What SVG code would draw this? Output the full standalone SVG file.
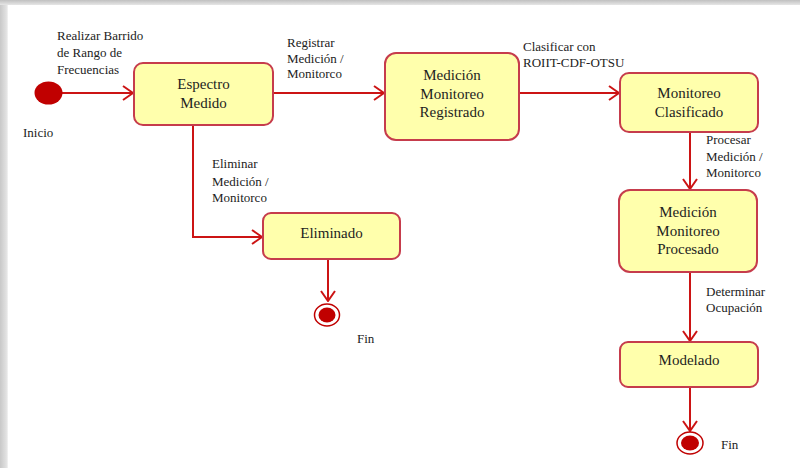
<svg xmlns="http://www.w3.org/2000/svg" width="800" height="468" viewBox="0 0 800 468">
  <defs>
    <linearGradient id="edgeL" x1="0" y1="0" x2="1" y2="0">
      <stop offset="0" stop-color="#c8c8c8"/>
      <stop offset="0.8" stop-color="#e2e2e2"/>
      <stop offset="1" stop-color="#f4f4f4"/>
    </linearGradient>
    <linearGradient id="edgeT" x1="0" y1="0" x2="0" y2="1">
      <stop offset="0" stop-color="#c0c0c0"/>
      <stop offset="1" stop-color="#e6e6e6"/>
    </linearGradient>
    <marker id="arrow" viewBox="0 0 12 16" refX="11" refY="8" markerWidth="12" markerHeight="16" markerUnits="userSpaceOnUse" orient="auto">
      <path d="M1,1 L11,8 L1,15" fill="none" stroke="#cc1414" stroke-width="2"/>
    </marker>
    <style>
      text { font-family: 'Liberation Serif', 'DejaVu Serif', serif; }
      .state rect { fill: #ffffac; stroke: #c63c4c; stroke-width: 2; }
      .state text { font-size: 15px; fill: #1e1e1e; text-anchor: middle; }
      .lbl { font-size: 13px; fill: #222; }
      .edge { fill: none; stroke: #cc1414; stroke-width: 2; marker-end: url(#arrow); }
      .dot { fill: #c00000; }
      .ring { fill: #ffffff; stroke: #c00000; stroke-width: 1.5; }
    </style>
  </defs>

  <!-- page background with soft shaded top/left edge -->
  <rect x="0" y="0" width="800" height="468" fill="#ffffff"/>
  <rect x="0" y="0" width="8" height="468" fill="url(#edgeL)"/>
  <rect x="0" y="0" width="800" height="5" fill="url(#edgeT)"/>

  <!-- connectors -->
  <g id="connectors">
    <line class="edge" x1="62" y1="93" x2="133" y2="93"/>
    <line class="edge" x1="273" y1="93" x2="384" y2="93"/>
    <line class="edge" x1="520" y1="93" x2="619" y2="93"/>
    <polyline class="edge" points="193,125 193,237 262,237"/>
    <line class="edge" x1="328" y1="260" x2="328" y2="301"/>
    <line class="edge" x1="690" y1="133" x2="690" y2="189"/>
    <line class="edge" x1="690" y1="273" x2="690" y2="341"/>
    <line class="edge" x1="690" y1="388" x2="690" y2="431"/>
  </g>

  <g font-family="Liberation Serif, DejaVu Serif, serif">
  <!-- transition labels -->
  <g id="labels">
    <text class="lbl" x="57" y="40">Realizar Barrido</text>
    <text class="lbl" x="57" y="57">de Rango de</text>
    <text class="lbl" x="57" y="74">Frecuencias</text>
    <text class="lbl" x="287" y="47">Registrar</text>
    <text class="lbl" x="287" y="63">Medición /</text>
    <text class="lbl" x="287" y="78">Monitorco</text>
    <text class="lbl" x="523" y="51">Clasificar con</text>
    <text class="lbl" x="523" y="67">ROIIT-CDF-OTSU</text>
    <text class="lbl" x="212" y="168">Eliminar</text>
    <text class="lbl" x="212" y="186">Medición /</text>
    <text class="lbl" x="212" y="202">Monitorco</text>
    <text class="lbl" x="706" y="144">Procesar</text>
    <text class="lbl" x="706" y="161">Medición /</text>
    <text class="lbl" x="706" y="177">Monitorco</text>
    <text class="lbl" x="706" y="296">Determinar</text>
    <text class="lbl" x="706" y="312">Ocupación</text>
  </g>

  <!-- initial state -->
  <g id="inicio">
    <ellipse class="dot" cx="48.5" cy="93" rx="14" ry="11.5"/>
    <text class="lbl" x="23" y="137">Inicio</text>
  </g>

  <g id="espectro-medido" class="state">
    <rect x="134" y="63" width="139" height="62" rx="9"/>
    <text x="203.5" y="89">Espectro</text>
    <text x="203.5" y="108">Medido</text>
  </g>

  <g id="medicion-registrado" class="state">
    <rect x="385" y="53" width="134" height="87" rx="11"/>
    <text x="452" y="80">Medición</text>
    <text x="452" y="99">Monitoreo</text>
    <text x="452" y="117">Registrado</text>
  </g>

  <g id="monitoreo-clasificado" class="state">
    <rect x="620" y="73" width="138" height="59" rx="9"/>
    <text x="689" y="98">Monitoreo</text>
    <text x="689" y="117">Clasificado</text>
  </g>

  <g id="eliminado" class="state">
    <rect x="263" y="213" width="137" height="46" rx="8"/>
    <text x="331.5" y="238">Eliminado</text>
  </g>

  <g id="medicion-procesado" class="state">
    <rect x="619" y="190" width="138" height="82" rx="11"/>
    <text x="688" y="217">Medición</text>
    <text x="688" y="236">Monitoreo</text>
    <text x="688" y="254">Procesado</text>
  </g>

  <g id="modelado" class="state">
    <rect x="620" y="342" width="138" height="45" rx="8"/>
    <text x="689" y="365">Modelado</text>
  </g>

  <!-- final states -->
  <g id="fin-eliminado">
    <ellipse class="ring" cx="327" cy="315" rx="12.5" ry="11"/>
    <ellipse class="dot" cx="327" cy="315" rx="8.5" ry="7.5"/>
    <text class="lbl" x="357" y="343">Fin</text>
  </g>

  <g id="fin-modelado">
    <ellipse class="ring" cx="690" cy="443" rx="13" ry="11"/>
    <ellipse class="dot" cx="690" cy="443" rx="9" ry="7.5"/>
    <text class="lbl" x="721" y="449">Fin</text>
  </g>
  </g>
</svg>
